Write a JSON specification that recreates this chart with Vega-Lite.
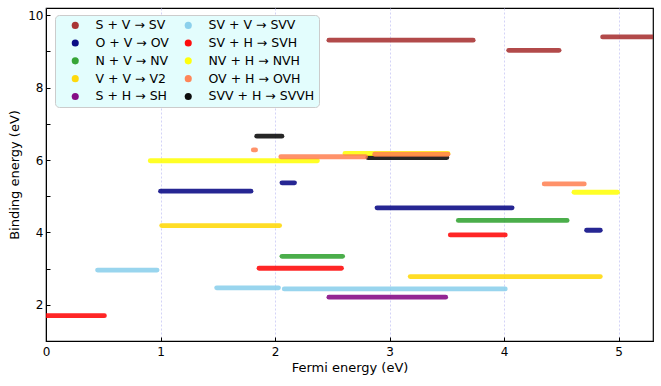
{
  "$schema": "https://vega.github.io/schema/vega-lite/v6.json",
  "width": 607,
  "height": 333,
  "autosize": "none",
  "padding": {"left": 46, "top": 8, "right": 8, "bottom": 45},
  "background": "white",
  "config": {
    "font": "DejaVu Sans",
    "view": {"stroke": "black", "strokeWidth": 1.2}
  },
  "data": {
    "values": [
      {"r": "SVV + H → SVVH", "x1": 1.84, "x2": 2.06, "y": 6.66},
      {"r": "SVV + H → SVVH", "x1": 2.81, "x2": 3.50, "y": 6.07},
      {"r": "S + V → SV", "x1": 2.47, "x2": 3.73, "y": 9.31},
      {"r": "S + V → SV", "x1": 4.04, "x2": 4.48, "y": 9.03},
      {"r": "S + V → SV", "x1": 4.86, "x2": 5.4, "y": 9.40},
      {"r": "O + V → OV", "x1": 1.00, "x2": 1.79, "y": 5.14},
      {"r": "O + V → OV", "x1": 2.06, "x2": 2.17, "y": 5.37},
      {"r": "O + V → OV", "x1": 2.89, "x2": 4.07, "y": 4.68},
      {"r": "O + V → OV", "x1": 4.72, "x2": 4.84, "y": 4.06},
      {"r": "N + V → NV", "x1": 3.60, "x2": 4.55, "y": 4.33},
      {"r": "N + V → NV", "x1": 2.06, "x2": 2.59, "y": 3.34},
      {"r": "V + V → V2", "x1": 1.01, "x2": 2.04, "y": 4.19},
      {"r": "V + V → V2", "x1": 3.18, "x2": 4.84, "y": 2.78},
      {"r": "S + H → SH", "x1": 2.47, "x2": 3.49, "y": 2.21},
      {"r": "SV + V → SVV", "x1": 0.45, "x2": 0.97, "y": 2.96},
      {"r": "SV + V → SVV", "x1": 1.49, "x2": 2.03, "y": 2.47},
      {"r": "SV + V → SVV", "x1": 2.08, "x2": 4.01, "y": 2.44},
      {"r": "SV + H → SVH", "x1": 0.0, "x2": 0.51, "y": 1.70},
      {"r": "SV + H → SVH", "x1": 1.86, "x2": 2.58, "y": 3.01},
      {"r": "SV + H → SVH", "x1": 3.53, "x2": 4.01, "y": 3.93},
      {"r": "NV + H → NVH", "x1": 0.91, "x2": 2.37, "y": 5.98},
      {"r": "NV + H → NVH", "x1": 2.61, "x2": 3.51, "y": 6.18},
      {"r": "NV + H → NVH", "x1": 4.61, "x2": 4.99, "y": 5.11},
      {"r": "OV + H → OVH", "x1": 1.81, "x2": 1.83, "y": 6.28},
      {"r": "OV + H → OVH", "x1": 2.05, "x2": 2.79, "y": 6.09},
      {"r": "OV + H → OVH", "x1": 2.87, "x2": 3.51, "y": 6.16},
      {"r": "OV + H → OVH", "x1": 4.35, "x2": 4.70, "y": 5.34}
    ]
  },
  "encoding": {
    "x": {
      "field": "x1", "type": "quantitative",
      "scale": {"domain": [0, 5.3], "nice": false, "zero": false},
      "axis": {
        "title": "Fermi energy (eV)", "titleFontSize": 13, "titleFontWeight": "normal", "titleColor": "black", "titlePadding": 4,
        "values": [0, 1, 2, 3, 4, 5], "format": "d", "labelFlush": false,
        "labelFontSize": 12, "labelColor": "black", "labelPadding": 9,
        "tickSize": -4, "tickColor": "black", "domainColor": "black",
        "grid": true, "gridColor": "#c8c8f5", "gridDash": [2, 2], "gridWidth": 0.8
      }
    },
    "y": {
      "field": "y", "type": "quantitative",
      "scale": {"domain": [1, 10.2], "nice": false, "zero": false},
      "axis": {
        "title": "Binding energy (eV)", "titleFontSize": 13, "titleFontWeight": "normal", "titleColor": "black", "titlePadding": 6,
        "values": [1, 2, 3, 4, 5, 6, 7, 8, 9, 10], "labelFlush": false,
        "labelExpr": "datum.value % 2 === 0 ? datum.label : ''",
        "labelFontSize": 12, "labelColor": "black", "labelPadding": 7,
        "tickSize": -4, "tickColor": "black", "domainColor": "black",
        "grid": false
      }
    },
    "color": {
      "field": "r", "type": "nominal",
      "scale": {
        "domain": ["S + V → SV", "O + V → OV", "N + V → NV", "V + V → V2", "S + H → SH", "SV + V → SVV", "SV + H → SVH", "NV + H → NVH", "OV + H → OVH", "SVV + H → SVVH"],
        "range": ["#a52a2a", "#000080", "#2ca02c", "#ffd700", "#800080", "#87ceeb", "#ff0000", "#ffff00", "#ff7f50", "#000000"]
      },
      "legend": {
        "orient": "none", "legendX": 9, "legendY": 7,
        "title": null, "columns": 2,
        "symbolType": "circle", "symbolSize": 50, "symbolOffset": 10, "symbolStrokeWidth": 0,
        "labelFontSize": 12.5, "labelColor": "black", "labelOffset": 14,
        "columnPadding": 3, "rowPadding": 4.8, "padding": 4,
        "fillColor": "#e3fdfd", "strokeColor": "#cccccc", "cornerRadius": 4
      }
    }
  },
  "layer": [
    {
      "transform": [{"filter": "datum.y > 100"}],
      "mark": {"type": "point", "filled": true, "opacity": 0.95, "shape": "circle"}
    },
    {
      "mark": {"type": "rule", "strokeWidth": 4.8, "strokeCap": "round", "opacity": 0.85, "clip": true},
      "encoding": {"x2": {"field": "x2"}}
    }
  ]
}
